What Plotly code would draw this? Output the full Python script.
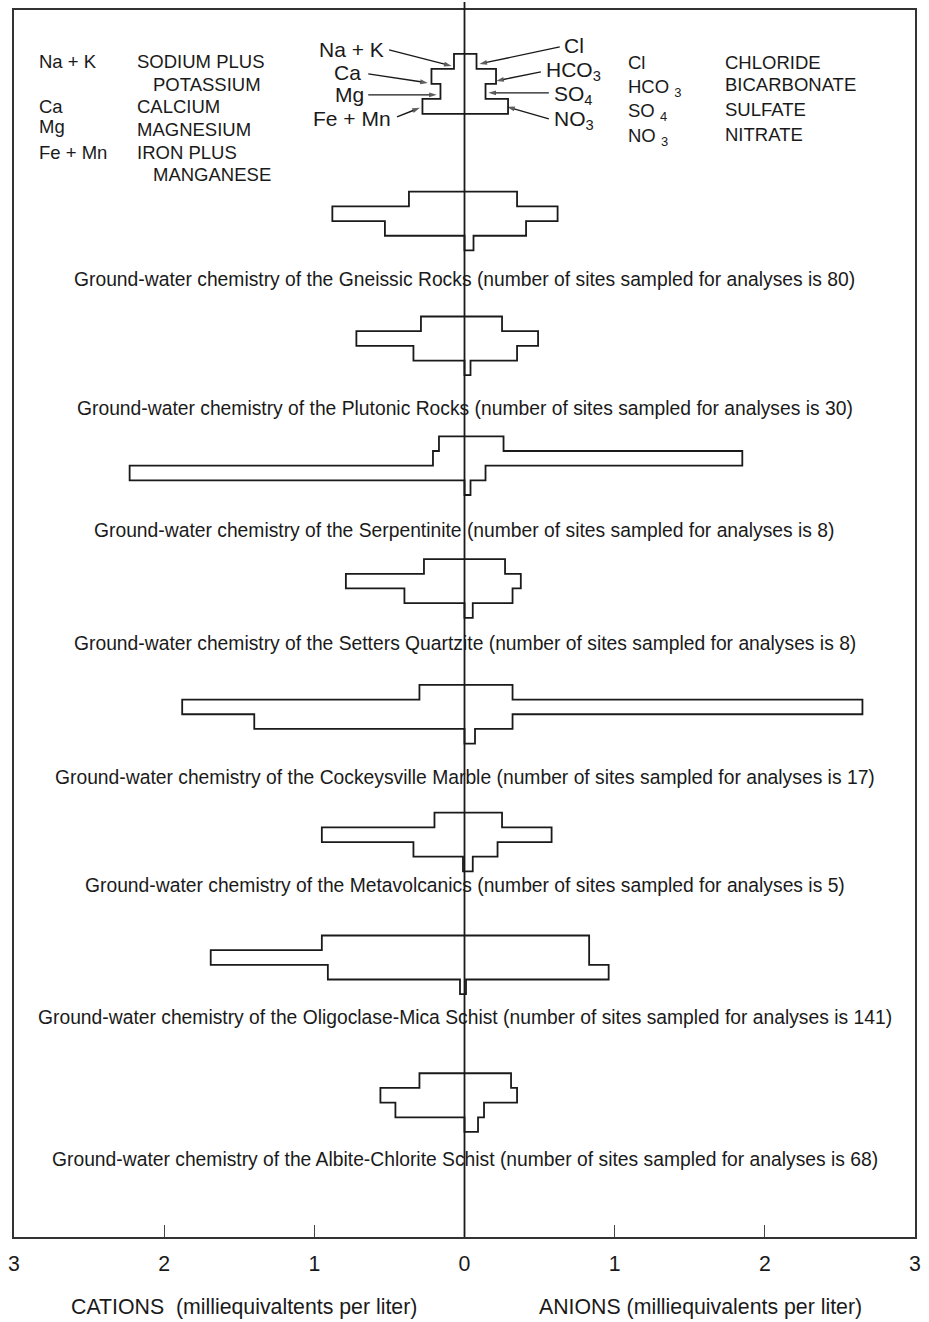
import plotly.graph_objects as go

# ---------------- data (milliequivalents per liter) ----------------
rock_units = ["Gneissic Rocks", "Plutonic Rocks", "Serpentinite", "Setters Quartzite",
              "Cockeysville Marble", "Metavolcanics", "Oligoclase-Mica Schist",
              "Albite-Chlorite Schist"]
n_sites = [80, 30, 8, 8, 17, 5, 141, 68]

# cations (drawn to the left)
na_k  = [0.37, 0.29, 0.17, 0.27, 0.30, 0.20, 0.95, 0.30]
ca    = [0.88, 0.72, 0.21, 0.79, 1.88, 0.95, 1.69, 0.56]
mg    = [0.53, 0.34, 2.23, 0.40, 1.40, 0.34, 0.91, 0.46]
fe_mn = [0.00, 0.00, 0.00, 0.00, 0.00, 0.01, 0.03, 0.00]
# anions (drawn to the right)
cl    = [0.35, 0.25, 0.26, 0.27, 0.32, 0.25, 0.83, 0.31]
hco3  = [0.62, 0.49, 1.85, 0.375, 2.65, 0.58, 0.83, 0.35]
so4   = [0.41, 0.35, 0.14, 0.32, 0.32, 0.22, 0.96, 0.13]
no3   = [0.06, 0.04, 0.04, 0.055, 0.07, 0.055, 0.01, 0.09]

# explanatory key diagram
key_cations = [0.07, 0.22, 0.16, 0.28]   # Na+K, Ca, Mg, Fe+Mn
key_anions  = [0.08, 0.21, 0.14, 0.29]   # Cl, HCO3, SO4, NO3
key_cation_labels = ["Na + K", "Ca", "Mg", "Fe + Mn"]
key_anion_labels = ["Cl", "HCO<sub>3</sub>", "SO<sub>4</sub>", "NO<sub>3</sub>"]

tick_vals = [-3, -2, -1, 0, 1, 2, 3]
tick_text = ["3", "2", "1", "0", "1", "2", "3"]

# ---------------- layout constants (page pixels) ----------------
W, H = 929, 1322
ML, MR, MT, MB = 11, 10, 8, 85
PLOT_TOP, PLOT_BOT = MT, H - MB
X_CENTER = ML + (W - ML - MR) / 2.0
PX_PER_UNIT = (W - ML - MR) / 6.0

def dx(px):
    return (px - X_CENTER) / PX_PER_UNIT

def py_paper(py):
    return (PLOT_BOT - py) / (PLOT_BOT - PLOT_TOP)

diagram_tops = [190, 315, 435, 558, 684, 812, 935, 1073]
band_h = 14.7
key_top, key_band = 52, 15.0
caption_y = [278, 407, 529, 643, 777, 885, 1017, 1159]

FONT = "Liberation Sans, Arial, Helvetica, sans-serif"
FS = 18.5
FS_CAP = 19.3
FS_KEY = 21
FS_AXIS = 21.3
INK = "#1a1a1a"


def stiff_outline(cations, anions, top, h):
    xs, ys = [0], [top]
    for i, v in enumerate(cations):
        xs += [-v, -v]
        ys += [top + i * h, top + (i + 1) * h]
    for i in range(3, -1, -1):
        v = anions[i]
        xs += [v, v]
        ys += [top + (i + 1) * h, top + i * h]
    xs.append(0)
    ys.append(top)
    return xs, ys


fig = go.Figure()

# key diagram
kx, ky = stiff_outline(key_cations, key_anions, key_top, key_band)
fig.add_trace(go.Scatter(x=kx, y=ky, mode="lines", line=dict(color=INK, width=1.8),
                         hoverinfo="skip", showlegend=False))

for i in range(len(rock_units)):
    xs, ys = stiff_outline([na_k[i], ca[i], mg[i], fe_mn[i]],
                           [cl[i], hco3[i], so4[i], no3[i]],
                           diagram_tops[i], band_h)
    fig.add_trace(go.Scatter(x=xs, y=ys, mode="lines", line=dict(color=INK, width=1.8),
                             hoverinfo="skip", showlegend=False, name=rock_units[i]))

# key arrows (tail -> tip, page pixels)
cat_tails = [(389, 48), (368, 72), (368, 93), (397, 115)]
cat_tips = [(452, 64), (428, 81), (437, 93), (420, 106)]
an_tails = [(561, 45), (542, 70), (550, 91), (550, 117)]
an_tips = [(480, 62), (497, 79), (489, 91), (508, 105)]
for (tx0, ty0), (tx1, ty1) in list(zip(cat_tails, cat_tips)) + list(zip(an_tails, an_tips)):
    fig.add_trace(go.Scatter(
        x=[dx(tx0), dx(tx1)], y=[ty0, ty1], mode="lines+markers",
        line=dict(color=INK, width=1.4),
        marker=dict(symbol=["circle", "arrow"], size=[0, 8], color=INK,
                    angleref="previous", line=dict(width=0)),
        hoverinfo="skip", showlegend=False))

annotations = []

def text(x_px, y_px, s, anchor="left", size=FS):
    annotations.append(dict(x=dx(x_px), y=y_px, xref="x", yref="y", text=s,
                            showarrow=False, xanchor=anchor, yanchor="middle",
                            font=dict(family=FONT, size=size, color=INK)))

# captions
for i, unit in enumerate(rock_units):
    annotations.append(dict(
        x=0, y=caption_y[i], xref="x", yref="y",
        text=f"Ground-water chemistry of the {unit} (number of sites sampled for analyses is {n_sites[i]})",
        showarrow=False, xanchor="center", yanchor="middle",
        font=dict(family=FONT, size=FS_CAP, color=INK)))

# key labels
cat_text_pos = [(386, 48), (363, 71), (366, 93), (393, 117)]
an_text_pos = [(563, 44), (545, 69), (553, 93), (553, 118)]
for lab, (tx, ty) in zip(key_cation_labels, cat_text_pos):
    text(tx, ty, lab, anchor="right", size=FS_KEY)
for lab, (tx, ty) in zip(key_anion_labels, an_text_pos):
    text(tx, ty, lab, anchor="left", size=FS_KEY)

# explanation text, left
for (x, y, s) in [(34, 60, "Na&nbsp;+&nbsp;K"), (133, 60, "SODIUM PLUS"), (149, 83, "POTASSIUM"),
                  (34, 105, "Ca"), (133, 105, "CALCIUM"),
                  (34, 125, "Mg"), (133, 128, "MAGNESIUM"),
                  (34, 151, "Fe&nbsp;+&nbsp;Mn"), (133, 151, "IRON PLUS"), (149, 173, "MANGANESE")]:
    text(x, y, s)
# explanation text, right
for (x, y, s) in [(628, 61, "Cl"), (726, 61, "CHLORIDE"),
                  (628, 86, "HCO <sub>3</sub>"), (726, 83, "BICARBONATE"),
                  (628, 110, "SO <sub>4</sub>"), (726, 108, "SULFATE"),
                  (628, 135, "NO <sub>3</sub>"), (726, 133, "NITRATE")]:
    text(x, y, s)

# axis titles (below the plot area -> paper coordinates)
for (x, s) in [(243, "CATIONS&nbsp; (milliequivaltents per liter)"),
               (703, "ANIONS (milliequivalents per liter)")]:
    annotations.append(dict(x=dx(x), y=py_paper(1307), xref="x", yref="paper", text=s,
                            showarrow=False, xanchor="center", yanchor="middle",
                            font=dict(family=FONT, size=FS_AXIS, color=INK)))

fig.update_layout(
    width=W, height=H,
    margin=dict(l=ML, r=MR, t=MT, b=MB, pad=0),
    paper_bgcolor="white", plot_bgcolor="white",
    annotations=annotations,
    shapes=[dict(type="line", xref="paper", yref="paper", x0=0.5, x1=0.5,
                 y0=0, y1=1 + MT / (PLOT_BOT - PLOT_TOP),
                 line=dict(color=INK, width=1.8), layer="above")],
    xaxis=dict(range=[-3, 3], tickvals=tick_vals, ticktext=tick_text,
               ticks="inside", ticklen=12, tickwidth=1, tickcolor="#444",
               tickfont=dict(family=FONT, size=FS_AXIS, color=INK),
               ticklabelstandoff=7,
               showgrid=False, zeroline=False, showline=True, mirror=True,
               linecolor="#333", linewidth=1.5, fixedrange=True),
    yaxis=dict(range=[PLOT_BOT, PLOT_TOP], showticklabels=False, ticks="",
               showgrid=False, zeroline=False, showline=True, mirror=True,
               linecolor="#333", linewidth=1.5, fixedrange=True),
)

fig.write_html("out.html", post_script="document.body.style.margin='0';",
               config={"displayModeBar": False})
